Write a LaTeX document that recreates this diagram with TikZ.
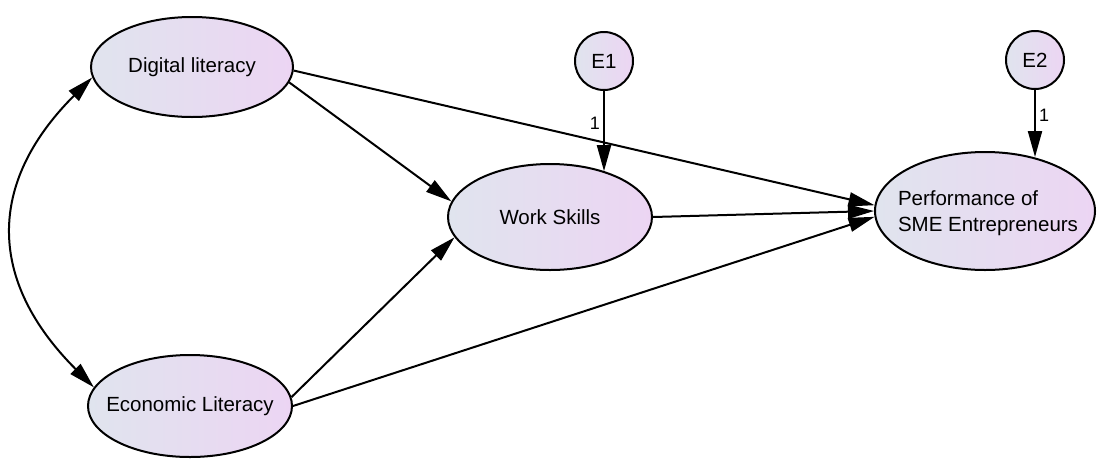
\documentclass[tikz,border=0pt]{standalone}
\usepackage{fontspec}
\setmainfont{Liberation Sans}
\usetikzlibrary{shapes.geometric,arrows.meta}
\definecolor{shL}{RGB}{224,228,238}
\definecolor{shR}{RGB}{236,213,243}
\begin{document}
\begin{tikzpicture}[x=1pt,y=-1pt,
  lat/.style={ellipse,draw,line width=2pt,left color=shL,right color=shR,inner sep=0pt},
  txt/.style={inner sep=0pt,font=\fontsize{20.5}{26}\selectfont},
  err/.style={circle,draw,line width=2pt,left color=shL,right color=shR,inner sep=0pt,minimum size=58pt,font=\fontsize{20.5}{24}\selectfont},
  pathline/.style={line width=2pt,-{Triangle[length=26pt,width=14pt]}},
  lbl/.style={font=\fontsize{18}{20}\selectfont,inner sep=3pt}]
\useasboundingbox (0,0) rectangle (1097,464);
\node[lat,minimum width=202pt,minimum height=100pt] (dig) at (192,67) {};
\node[txt] (digt) at (dig) {Digital literacy};
\node[lat,minimum width=204pt,minimum height=102pt] (eco) at (190,406) {};
\node[txt] (ecot) at (eco) {Economic Literacy};
\node[lat,minimum width=204pt,minimum height=106pt] (work) at (550,217) {};
\node[txt] (workt) at (work) {Work Skills};
\node[lat,minimum width=220pt,minimum height=118pt] (perf) at (985,211) {};
\node[txt,align=left] (perft) at (988,213) {Performance of\\SME Entrepreneurs};
\node[err] (e1) at (604,61) {E1};
\node[err] (e2) at (1035,60) {E2};
\draw[pathline] (dig.-2) -- (perf.177);
\draw[pathline] (dig.-9) -- (work.171);
\draw[pathline] (eco.5) -- (work.192);
\draw[pathline] (eco.0.5) -- (perf.183);
\draw[pathline] (work.0) -- (perf.180);
\draw[pathline] (e1.south) -- (work.40 -| e1.south) node[lbl,pos=0.4,left]{1};
\draw[pathline] (e2.south) -- (perf.48 -| e2.south) node[lbl,pos=0.38,right]{1};
\draw[line width=2pt,{Triangle[length=26pt,width=14pt]}-{Triangle[length=26pt,width=14pt]}] (dig.186) .. controls +(225:150pt) and +(135:150pt) .. (eco.169);
\end{tikzpicture}
\end{document}
